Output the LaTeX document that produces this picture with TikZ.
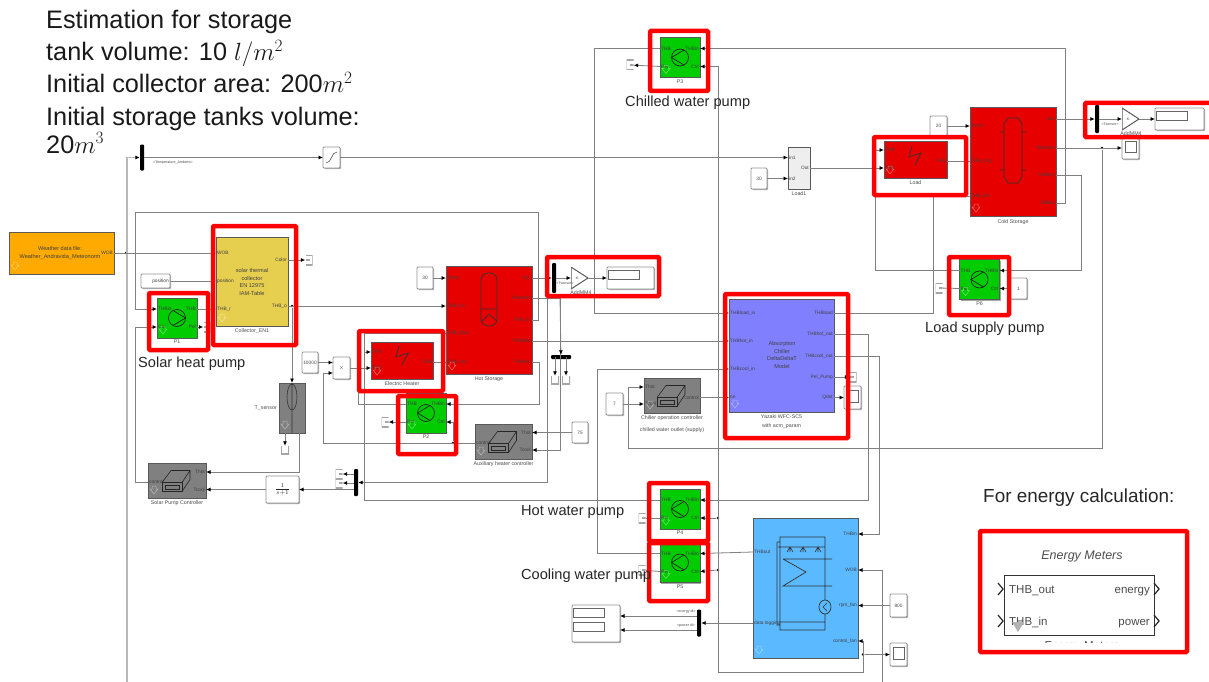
\documentclass[tikz,border=0pt]{standalone}
\usepackage{fontspec}
\setmainfont{Liberation Sans}
\usetikzlibrary{arrows.meta,positioning,shadows}
\definecolor{wirec}{gray}{0.5}
\definecolor{railc}{gray}{0.72}
\definecolor{termc}{gray}{0.65}
\definecolor{pumpg}{HTML}{00CC00}
\definecolor{hotred}{HTML}{E60000}
\definecolor{collyel}{HTML}{E6CF4F}
\definecolor{chillb}{HTML}{8080FF}
\definecolor{towerb}{HTML}{5AB9FF}
\definecolor{ctrlg}{HTML}{808080}
\definecolor{wthor}{HTML}{FFAA00}
\definecolor{loadg}{HTML}{EEEEEE}
\def\ppb{path picture bounding box}
\tikzset{
  blk/.style={draw=black!65,line width=.5pt,rectangle,inner sep=0,outer sep=0,anchor=north west,
    drop shadow={shadow xshift=1pt,shadow yshift=-1pt,opacity=.35,fill=black}},
  wblk/.style={blk,draw=gray!85,line width=.9pt,rounded corners=1pt,fill=white},
  wire/.style={draw=wirec,line width=.8pt},
  arr/.style={wire,-{Latex[black,length=4.5pt,width=4pt]}},
  rail/.style={draw=railc,line width=1.6pt,-{Latex[black,length=4.5pt,width=4pt]}},
  plab/.style={font=\fontsize{4.8}{5.5}\selectfont,text=black!75,inner sep=1pt},
  blkcap/.style={font=\fontsize{5.3}{9}\selectfont,text=black!70,inner sep=0,align=center},
  blktxt/.style={font=\fontsize{5.6}{7.4}\selectfont,text=black!75,align=center,inner sep=0},
  tagtxt/.style={font=\fontsize{3.6}{4}\selectfont,text=black!70,inner sep=0},
  barblk/.style={fill=black,inner sep=0,rounded corners=1pt},
  dotblk/.style={circle,fill=black,inner sep=0,minimum size=2.8},
  termblk/.style={inner sep=0,minimum width=7,minimum height=10},
  termw/.style={termblk,path picture={\draw[termc,line width=1.4pt] (\ppb.north east) -- (\ppb.north west)
    -- (\ppb.south west) -- (\ppb.south east) ([xshift=3pt]\ppb.west) -- (\ppb.east);}},
  terme/.style={termblk,path picture={\draw[termc,line width=1.4pt] (\ppb.north west) -- (\ppb.north east)
    -- (\ppb.south east) -- (\ppb.south west) (\ppb.west) -- ([xshift=-3pt]\ppb.east);}},
  terms/.style={inner sep=0,minimum width=8,minimum height=8,path picture={\draw[termc,line width=1.4pt]
    (\ppb.north west) -- (\ppb.south west) -- (\ppb.south east) -- (\ppb.north east);}},
  gainblk/.style={inner sep=0,outer sep=0,anchor=north west,path picture={\draw[black!65,line width=1pt]
    (\ppb.north west) -- (\ppb.east) -- (\ppb.south west) -- cycle;}},
  redbox/.style={draw=red,line width=4.5pt,rounded corners=1pt,inner sep=0,outer sep=0,anchor=north west},
  headtxt/.style={font=\fontsize{25.3}{27}\selectfont,anchor=base west,inner sep=0,text=black!90},
  pumptxt/.style={font=\fontsize{14.6}{16}\selectfont,inner sep=0,anchor=west,text=black!85},
  metertxt/.style={font=\fontsize{11.5}{13}\selectfont,text=black!70,inner sep=1pt}
}
\begin{document}
\begin{tikzpicture}[x=1pt,y=-1pt]
  \useasboundingbox (0,0) rectangle (1209,682);
  \foreach \n/\x/\y/\w/\h/\col in {wthr/9/232/105/42/wthor,coll/216/237/72/89/collyel,
    hot/446/266/86/108/hotred,heat/371/342/62/37/hotred,aux/475/424/57/35/ctrlg,
    chil/729/299/105/113/chillb,chc/644/378/56/35/ctrlg,cold/970/107/86/109/hotred,
    load/884/141/63/37/hotred,loadone/788/147/22/42/loadg,tower/753/518/105/140/towerb,
    tsens/279/383/26/50/ctrlg,solc/148/463/58/35/ctrlg}{
    \node[blk,fill=\col,minimum width=\w,minimum height=\h] (\n) at (\x,\y) {};
  }
  \foreach \n/\x/\y/\w/\h in {pos/141/274/29/14,sat/323/147/17/21,prod/333/357/17/22,lag/266/476/33/27,
    sca/844/386/17/23,scb/1122/137/17/22,scc/890/643/17/23,disph/607/267/47/22,dispc/1155/108/49/22,dispd/572/605/48/37}{
    \node[wblk,minimum width=\w,minimum height=\h] (\n) at (\x,\y) {};
  }
  \foreach \n/\x/\y/\w/\h/\lab in {cthi/417/267/16/22/30,cten/302/352/16/21/10000,cfive/572/422/16/21/75,
    csev/606/393/17/22/7,cthl/751/168/16/21/30,ctwe/930/116/17/20/20,cone/1010/278/17/21/1,ceig/890/594/17/23/800}{
    \node[wblk,minimum width=\w,minimum height=\h,font=\fontsize{4.8}{5}\selectfont,text=black!70] (\n) at (\x,\y) {\lab};
  }
  \foreach \n/\cx/\cy/\d/\inside/\outside/\lab in {pa/177/318/1/west/east/P1,pb/426/413/-1/east/west/P2,
    pc/680/57.5/-1/east/west/P3,pd/680/509/-1/east/west/P4,pe/680/562.5/-1/east/west/P5,pf/979.5/279.5/-1/east/west/P6}{
    \node[blk,fill=pumpg,minimum width=40,minimum height=40,anchor=center] (\n) at (\cx,\cy) {};
    \draw[black!85,line width=.7pt] (\n) circle (8.5);
    \draw[black!85,line width=.7pt,shift={(\n)},xscale=\d] (-4,-7.5) -- (8.5,0) -- (-4,7.5);
    \coordinate (\n-in) at (\n.\inside |- 0,\cy-9);
    \coordinate (\n-ctl) at (\n.\inside |- 0,\cy+9);
    \coordinate (\n-thb) at (\n.\outside |- 0,\cy-9);
    \coordinate (\n-pel) at (\n.\outside |- 0,\cy+9);
    \node[plab,anchor=\inside] (\n-inlab) at (\n-in) {THBin};
    \node[plab,anchor=\inside] (\n-ctllab) at (\n-ctl) {Ctrl};
    \node[plab,anchor=\outside] (\n-thblab) at (\n-thb) {THB};
    \node[plab,anchor=\outside] (\n-pellab) at (\n-pel) {Pel};
    \node[blkcap,below=2pt of \n] (\n-cap) {\lab};
  }
  \foreach \blk/\nm/\y/\lab in {coll/coll-wob/253/WOB,coll/coll-pos/281/position,coll/coll-r/309/THB\_r,
    hot/hot-tamb/278/Tamb,hot/hot-hx/306/THB\_hX,hot/hot-dhw/333/THB\_dhw,hot/hot-circ/362/THB\_circ,
    heat/heat-thb/352/THB,heat/heat-ctl/368/Tctrl,load/load-thb/150/THB,load/load-ctl/168/Tctrl,
    cold/cold-tamb/126/Tamb,cold/cold-chg/161/THB\_chg,cold/cold-dis/196/THB\_dis,
    chil/chil-la/313/THBload\_in,chil/chil-lb/341/THBhot\_in,chil/chil-lc/369/THBcool\_in,chil/chil-ld/397.5/on,
    chc/chc-thot/387/Thot,chc/chc-tcool/404/Tcool,aux/aux-ctl/443/control,solc/solc-on/482/control,
    loadone/one-ia/157.5/in1,loadone/one-ib/178.5/in2,tower/tw-out/552/THBout,tower/tw-log/623/data logging}{
    \coordinate (\nm) at (\blk.west |- 0,\y);
    \node[plab,anchor=west] (\nm-lab) at (\nm) {\lab};
  }
  \foreach \blk/\nm/\y/\lab in {wthr/wthr-wob/253/WOB,coll/coll-col/260/Color,coll/coll-o/306/THB\_o,
    hot/hot-soc/278/Soc,hot/hot-sens/298/Tsensors,hot/hot-hxo/320/THB\_hx,hot/hot-dhwo/341/THBdhw,hot/hot-circo/362/THBcirc,
    heat/heat-o/362/THB,load/load-o/161/THB,cold/cold-soc/119/Soc,cold/cold-sens/148/Tsensors,
    cold/cold-chgo/175/THBchg,cold/cold-diso/203/THBdis,chil/chil-ra/313/THBload,chil/chil-rb/334/THBhot\_out,
    chil/chil-rc/356/THBcool\_out,chil/chil-rd/377/Pel\_Pump,chil/chil-re/397.5/Qdot,chc/chc-o/397.5/control,
    aux/aux-thot/432.5/Thot,aux/aux-tcool/450/Tcool,solc/solc-thot/472/Thot,solc/solc-tcool/489.5/Tcool,
    loadone/one-o/168/Out,tower/tw-in/534/THBin,tower/tw-wob/570/WOB,tower/tw-rpm/605.5/rpm\_fan,tower/tw-ctl/641/control\_fan}{
    \coordinate (\nm) at (\blk.east |- 0,\y);
    \node[plab,anchor=east] (\nm-lab) at (\nm) {\lab};
  }
  \node[blktxt] (wthrtxt) at (60,253) {Weather data file:\\Weather\_Andravida\_Meteonorm};
  \node[blktxt] (colltxt) at (252,282) {solar thermal\\collector\\EN 12975\\IAM-Table};
  \node[blktxt] (chiltxt) at (782,355) {Absorption\\Chiller\\DeltaDeltaT\\Model};
  \node[plab,anchor=east] (postxt) at (170,281) {position};
  \node[font=\fontsize{6}{7}\selectfont,text=black!75,inner sep=0] (prodtxt) at (prod) {$\times$};
  \node[font=\fontsize{8}{9}\selectfont,text=black!85,inner sep=0] (lagtxt) at (lag) {$\frac{1}{s+1}$};
  \node[blkcap,below=2pt of coll] (collcap) {Collector\_EN1};
  \node[blkcap,below=3pt of hot] (hotcap) {Hot Storage};
  \node[blkcap,below=2pt of heat] (heatcap) {Electric Heater};
  \node[blkcap,below=2pt of aux] (auxcap) {Auxiliary heater controller};
  \node[blkcap,below=2pt of chil] (chilcap) {Yazaki WFC-SC5\\with acm\_param};
  \node[blkcap,below=2pt of chc] (chccap) {Chiller operation controller\\[3.5pt]chilled water outlet (supply)};
  \node[blkcap,below=3pt of cold] (coldcap) {Cold Storage};
  \node[blkcap,below=2pt of load] (loadcap) {Load};
  \node[blkcap,below=2pt of loadone] (onecap) {Load1};
  \node[blkcap,below=2pt of solc] (solccap) {Solar Pump Controller};
  \node[blkcap,left=2pt of tsens] (tscap) {T\_sensor};
  \draw[black!80,line width=.7pt] (399,346) -- (396,357) -- (408,353) -- (402,365);
  \draw[black!80,line width=.7pt] (912,146) -- (909,157) -- (921,153) -- (915,165);
  \draw[black!80,line width=.7pt,rounded corners=7pt] (481,273) rectangle (497,326);
  \draw[black!80,line width=.7pt] (481,309) -- (497,309) (481,322) -- (489,314) -- (497,321);
  \draw[black!80,line width=.7pt] (1008,118) -- (1018,118) -- (1022,124) -- (1022,177) -- (1018,183)
    -- (1008,183) -- (1004,177) -- (1004,124) -- cycle
    (1000,132) -- (1004,132) (1022,132) -- (1026,132) (1000,170) -- (1004,170) (1022,170) -- (1026,170);
  \foreach \cn in {aux,chc,solc}{
    \begin{scope}[shift={(\cn)},black!85,line width=.6pt]
      \draw (-15,2) rectangle (5,11) (-12,5) rectangle (2,9);
      \draw (-15,2) -- (-6,-10) -- (13,-10) -- (5,2) (13,-10) -- (13,-1) -- (5,11);
    \end{scope}
  }
  \draw[black!80,line width=.6pt] (292,397) ellipse (5 and 13) (292,383) -- (292,433);
  \draw[black!80,line width=.7pt] (780,537) rectangle (825,630) (777,542) -- (780,542) (777,542) -- (777,625) -- (780,625)
    (780,622) -- (825,622) (778,547) -- (825,547) (783,559) -- (832,559) (783,559) -- (806,572) -- (783,586) -- (832,586);
  \foreach \nx in {790,803,818}{
    \draw[black!80,line width=.6pt] (\nx,547) -- (\nx-3,552) (\nx,547) -- (\nx+3,552) (\nx,547) -- (\nx,552);
  }
  \draw[black!80,fill=towerb,line width=.7pt] (825,607) ellipse (6 and 7);
  \draw[black!80,line width=.6pt] (827,603) -- (823,607) -- (827,611);
  \draw[black!70,line width=.6pt] (326,163) .. controls (332,163) and (331,152) .. (337,152);
  \foreach \sn in {sca,scb,scc}{
    \draw[black!60,fill=white] ([shift={(3,4)}]\sn.north west) rectangle ([shift={(-3,-7)}]\sn.south east);
  }
  \foreach \dn in {disph,dispc}{
    \draw[black!60,fill=white] ([shift={(1.5,3)}]\dn.north west) rectangle ([shift={(32,12)}]\dn.north west);
  }
  \draw[black!60,fill=white] ([shift={(1.5,3)}]dispd.north west) rectangle ([shift={(32,12)}]dispd.north west)
    ([shift={(1.5,17)}]dispd.north west) rectangle ([shift={(32,26)}]dispd.north west);
  \foreach \blk in {wthr,coll,hot,heat,aux,chil,chc,cold,load,tower,tsens,solc,pa,pb,pc,pd,pe,pf,pos}{
    \draw[white,opacity=.45,line width=.5pt] ([shift={(4,-12)}]\blk.south west) -- ++(4,0) -- ++(0,3) -- ++(2,0)
      -- ++(-4,5) -- ++(-4,-5) -- ++(2,0) -- cycle;
  }
  \node[barblk,minimum width=4,minimum height=26] (dmxa) at (142,157.5) {};
  \node[barblk,minimum width=4,minimum height=30] (dmxh) at (554,278) {};
  \node[barblk,minimum width=4,minimum height=28] (dmxc) at (1097,119) {};
  \node[barblk,minimum width=4,minimum height=27] (dmxs) at (356,482.5) {};
  \node[barblk,minimum width=4,minimum height=27] (dmxd) at (699,623) {};
  \node[barblk,minimum width=20,minimum height=4] (bus) at (561,357) {};
  \node[gainblk,minimum width=17,minimum height=22] (gainh) at (571,267) {};
  \node[gainblk,minimum width=17,minimum height=22] (gainc) at (1122,108) {};
  \node[tagtxt] (gainhtxt) at (577,278) {-K-};
  \node[tagtxt] (gainctxt) at (1128,119) {-K-};
  \node[tagtxt] (tamb) at (173,163) {<Temperature\_Ambient>};
  \node[tagtxt] (xsh) at (565,283) {<Tsensor>};
  \node[tagtxt] (xsc) at (1110,124) {<Tsensor>};
  \node[tagtxt] (engy) at (686,612) {<energy dl>};
  \node[tagtxt] (powr) at (686,626) {<power dl>};
  \node[blkcap] (addh) at (581,293) {AddMM4};
  \node[blkcap] (addc) at (1131,134) {AddMM4};
  \node[termw] (tpc) at (630,65) {};
  \node[termw] (tpd) at (642,518) {};
  \node[termw] (tpe) at (642,570) {};
  \node[termw] (tpb) at (385,422) {};
  \node[termw] (tpf) at (939,288) {};
  \node[terme] (tpa) at (207,327) {};
  \node[terme] (tcol) at (309,260) {};
  \node[terme] (tchi) at (853,377) {};
  \node[terms] (tts) at (285,450) {};
  \node[terms] (tba) at (555,380) {};
  \node[terms] (tbb) at (566,380) {};
  \node[termw] (tsa) at (339,474) {};
  \node[termw] (tsb) at (339,483) {};
  \node[dotblk] (jw) at (126,253) {};
  \node[dotblk] (jc) at (292,306) {};
  \node[dotblk] (jaux) at (453,443) {};
  \node[dotblk] (jsens) at (1102,148) {};
  \node[dotblk] (jpd) at (718,518) {};
  \node[dotblk] (jpe) at (718,570) {};
  \node[dotblk] (jsc) at (863,654.5) {};
  \coordinate (railend) at (127,682);
  \coordinate (wobend) at (882,682);
  \coordinate (ctlend) at (718,672);
  \coordinate (senslow) at (628,448);
  \coordinate (jh) at (560,298);
  \coordinate (jk) at (547,298);
  \coordinate (hp) at (364,352);
  \coordinate (prod-ia) at (prod.west |- cten);
  \coordinate (prod-ib) at (prod.west |- 0,373);
  \coordinate (ts-t) at (285,433);
  \coordinate (ts-o) at (299,433);
  \draw[rail] (railend) |- (dmxa.west);
  \draw[arr] (dmxa) -- (sat);
  \draw[arr] (sat) -- (one-ia);
  \draw[arr] (cthl) -- (one-ib);
  \draw[arr] (one-o) -- (load-ctl);
  \draw[wire] (load-o) -- (cold-chg);
  \draw[arr] (ctwe) -- (cold-tamb);
  \draw[arr] (cold-soc) -- (dmxc);
  \draw[arr] (dmxc) -- (gainc);
  \draw[arr] (gainc) -- (dispc);
  \draw[arr] (cold-sens) -- (scb);
  \draw[arr] (jsens) |- (senslow) |- (chc-thot);
  \draw[arr] (cold-chgo) -- ++(25,0) |- (pf-in);
  \draw[arr] (cold-diso) -- ++(9,0) |- (pc-in);
  \draw[arr] (ctlend) |- (pc-ctl);
  \draw[arr] (ctlend) -- ++(145,0) |- (tw-ctl);
  \draw[arr] (jpd) -- (pd-ctl);
  \draw[arr] (jpe) -- (pe-ctl);
  \draw[arr] (jsc) -- (scc);
  \draw[arr] (pc-thb) -- ++(-66,0) |- (chil-la);
  \draw[arr] (pe-thb) -- ++(-63,0) |- (chil-lc);
  \draw[wire] (chil-ra) -- ++(99,0) |- (cold-dis);
  \draw[arr] (chil-rb) -- ++(34,0) |- (pd-in);
  \draw[arr] (chil-rc) -- ++(45,0) |- (tw-in);
  \draw[arr] (chil-rd) -- (tchi);
  \draw[arr] (chil-re) -- (sca);
  \draw[arr] (hot-dhwo) -- (chil-lb);
  \draw[arr] (chc-o) -- (chil-ld);
  \draw[arr] (csev) -- (chc-tcool);
  \draw[arr] (cthi) -- (hot-tamb);
  \draw[arr] (hot-soc) -- (dmxh);
  \draw[arr] (dmxh) -- (gainh);
  \draw[arr] (gainh) -- (disph);
  \draw[arr] (wthr-wob) -- (coll-wob);
  \draw[arr] (coll-o) -- (hot-hx);
  \draw[arr] (jc) -- (tsens);
  \draw[arr] (pa-thb) -- (coll-r);
  \draw[arr] (hot-hxo) -- ++(6,0) -- ++(0,-108) -- ++(-403,0) |- (pa-in);
  \draw[arr] (solc-on) -- ++(-13,0) |- (pa-ctl);
  \draw[arr] (pa-pel) -- (tpa);
  \draw[arr] (coll-col) -- (tcol);
  \draw[arr] (pos) -- (coll-pos);
  \draw[arr] (cten) -- (prod-ia);
  \draw[arr] (prod) -- (heat-ctl);
  \draw[arr] (aux-ctl) -- ++(-152,0) |- (prod-ib);
  \draw[arr] (jaux) |- (pb-ctl);
  \draw[arr] (hot-circo) -- ++(7,0) |- (pb-in);
  \draw[wire] (heat-o) -- (hot-circ);
  \draw[wire] (pd-thb) -- ++(-296,0) |- (hot-dhw);
  \draw[arr] (hp) -- (heat-thb);
  \draw[wire] (pb-thb) -- ++(-48,0) -- ++(0,-70);
  \draw[arr] (pb-pel) -- (tpb);
  \draw[arr] (cfive) -- (aux-thot);
  \draw[arr] (hot-sens) -| (jh) |- (aux-tcool);
  \draw[arr] (jk) |- (dmxs.east);
  \draw[arr] (jh) -- (bus);
  \draw[arr] (tba |- bus) -- (tba);
  \draw[arr] (tbb |- bus) -- (tbb);
  \draw[arr] (dmxs.west |- lag) -- (lag);
  \draw[arr] (dmxs.west |- tsa) -- (tsa);
  \draw[arr] (dmxs.west |- tsb) -- (tsb);
  \draw[arr] (lag) -- (solc-tcool);
  \draw[arr] (ts-o) |- (solc-thot);
  \draw[arr] (ts-t) -- (tts);
  \draw[arr] (tw-out) -- (pe-in);
  \draw[arr] (ceig) -- (tw-rpm);
  \draw[arr] (tw-log) -- (dmxd.east);
  \draw[arr] (dmxd.west |- 0,616) -- (dispd.east |- 0,616);
  \draw[arr] (dmxd.west |- 0,630) -- (dispd.east |- 0,630);
  \draw[arr] (wobend) |- (tw-wob);
  \draw[arr] (pf-thb) -- ++(-84.5,0) |- (load-thb);
  \draw[arr] (cone) -- (pf-ctl);
  \draw[wire] (pf-pel) -- (tpf);
  \draw[arr] (pc-pel) -- (tpc);
  \draw[wire] (pd-pel) -- (tpd);
  \draw[wire] (pe-pel) -- (tpe);
  \node[draw=black!80,line width=.8pt,inner sep=0,outer sep=0,anchor=north west,minimum width=150,minimum height=60,
    drop shadow={shadow xshift=1pt,shadow yshift=-1pt,opacity=.3,fill=black},fill=white] (meter) at (1004,575) {};
  \node[font=\fontsize{12.5}{14}\selectfont\itshape,text=black!70,inner sep=0] (metertop) at (1082,556) {Energy Meters};
  \node[metertxt,anchor=base west] (mout) at (1008,593) {THB\_out};
  \node[metertxt,anchor=base west] (min) at (1008,625) {THB\_in};
  \node[metertxt,anchor=base east] (meng) at (1151,593) {energy};
  \node[metertxt,anchor=base east] (mpow) at (1151,625) {power};
  \node[metertxt] (mcap) at (1082,647) {Energy Meters};
  \fill[white] (1020,643) rectangle (1145,652);
  \fill[black!30] (1012,622) -- (1024,622) -- (1018,632) -- cycle;
  \foreach \cx/\cy in {998/589,998/621,1154/589,1154/621}{
    \draw[black!85,line width=1.2pt] (\cx,\cy-6) -- (\cx+5,\cy) -- (\cx,\cy+6);
  }
  \foreach \n/\x/\y/\w/\h in {rpa/149/293/59/57,rcoll/213/226/83/119,rheat/359/331/84/60,rpb/398/396/58/58,
    rdh/547/257/112/39,rchil/725/294/123/144,rload/874/137/92/58,rdc/1085/103/135/34,rpf/949/257/60/58,
    rpc/650/31/58/60,rpd/649/483/59/58,rpe/649/543/59/58,rmeter/980/531/207/121}{
    \node[redbox,minimum width=\w,minimum height=\h] (\n) at (\x,\y) {};
  }
  \node[headtxt] (est1) at (46,29) {Estimation for storage};
  \node[headtxt] (est2) at (46,61) {tank volume: 10 $l/m^2$};
  \node[headtxt] (est3) at (46,93) {Initial collector area: 200$m^2$};
  \node[headtxt] (est4) at (46,125) {Initial storage tanks volume:};
  \node[headtxt] (est5) at (46,153) {20$m^3$};
  \node[pumptxt] (solarpump) at (138,364) {Solar heat pump};
  \node[pumptxt] (chillpump) at (625,103) {Chilled water pump};
  \node[pumptxt] (loadpump) at (925,329) {Load supply pump};
  \node[pumptxt] (hotpump) at (521,512) {Hot water pump};
  \node[pumptxt] (coolpump) at (521,576) {Cooling water pump};
  \node[font=\fontsize{18.9}{20}\selectfont,inner sep=0,anchor=west,text=black!85] (energytxt) at (983,498) {For energy calculation:};
\end{tikzpicture}
\end{document}
